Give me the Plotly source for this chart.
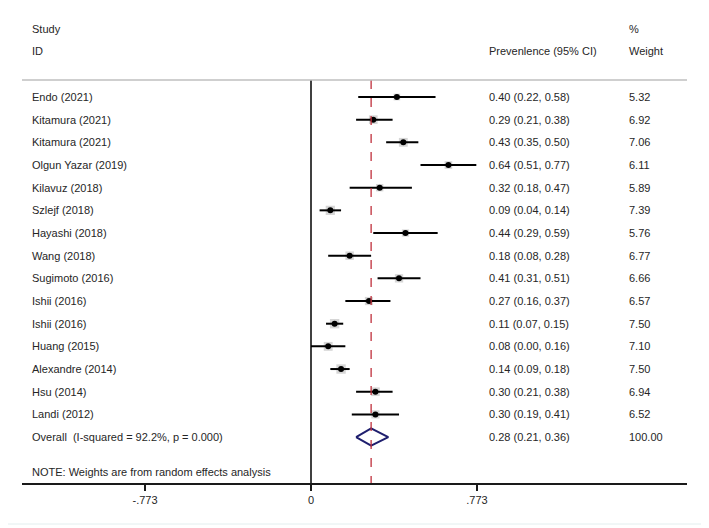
import plotly.graph_objects as go

studies = ["Endo (2021)", "Kitamura (2021)", "Kitamura (2021)", "Olgun Yazar (2019)",
           "Kilavuz (2018)", "Szlejf (2018)", "Hayashi (2018)", "Wang (2018)",
           "Sugimoto (2016)", "Ishii (2016)", "Ishii (2016)", "Huang (2015)",
           "Alexandre (2014)", "Hsu (2014)", "Landi (2012)"]
est = [0.40, 0.29, 0.43, 0.64, 0.32, 0.09, 0.44, 0.18, 0.41, 0.27, 0.11, 0.08, 0.14, 0.30, 0.30]
lo = [0.22, 0.21, 0.35, 0.51, 0.18, 0.04, 0.29, 0.08, 0.31, 0.16, 0.07, 0.00, 0.09, 0.21, 0.19]
hi = [0.58, 0.38, 0.50, 0.77, 0.47, 0.14, 0.59, 0.28, 0.51, 0.37, 0.15, 0.16, 0.18, 0.38, 0.41]
weights = [5.32, 6.92, 7.06, 6.11, 5.89, 7.39, 5.76, 6.77, 6.66, 6.57, 7.50, 7.10, 7.50, 6.94, 6.52]

overall_label = "Overall  (I-squared = 92.2%, p = 0.000)"
overall_est, overall_lo, overall_hi, overall_w = 0.28, 0.21, 0.36, 100.00
note = "NOTE: Weights are from random effects analysis"
tick_vals = [-0.773, 0, 0.773]
tick_text = ["-.773", "0", ".773"]

# page body has an 8px margin; the figure is sized so window pixels match the reference
OFF = 8
WIN_W, WIN_H = 709, 528
W, H = WIN_W - OFF, WIN_H - OFF
plot_left, plot_right, plot_top, plot_bottom = 22, 687, 80, 483  # window pixels
L, R = plot_left - OFF, WIN_W - plot_right
T, B = plot_top - OFF, WIN_H - plot_bottom
pw, ph = plot_right - plot_left, plot_bottom - plot_top

px0, ppu = 311.0, 214.7  # window pixel of x=0, pixels per unit
x_min = (plot_left - px0) / ppu
x_max = (plot_right - px0) / ppu
row0_px, row_h = 97.0, 22.67
def rowpx_to_y(p):
    return (p - row0_px) / row_h + 1
y_top = rowpx_to_y(plot_top)
y_bot = rowpx_to_y(plot_bottom)
def px_to_x(p):
    return (p - px0) / ppu

FONT = "Liberation Sans, Arial, sans-serif"
TXT = "#262626"

n = len(studies)
rows = list(range(1, n + 1))
fig = go.Figure()

# weight boxes
fig.add_trace(go.Scatter(x=est, y=rows, mode="markers",
                         marker=dict(symbol="square", size=[w * 1.25 for w in weights],
                                     color="#c4c4c4", line=dict(width=0)),
                         hoverinfo="skip", showlegend=False))
# CI lines
cx, cy = [], []
for a, b, r in zip(lo, hi, rows):
    cx += [a, b, None]
    cy += [r, r, None]
fig.add_trace(go.Scatter(x=cx, y=cy, mode="lines", line=dict(color="black", width=2),
                         hoverinfo="skip", showlegend=False))
# point estimates
fig.add_trace(go.Scatter(x=est, y=rows, mode="markers",
                         marker=dict(symbol="circle", size=6, color="black"),
                         hoverinfo="skip", showlegend=False))
# overall diamond
ro = n + 1
dh = 0.38
fig.add_trace(go.Scatter(x=[overall_lo, overall_est, overall_hi, overall_est, overall_lo],
                         y=[ro, ro - dh, ro, ro + dh, ro], mode="lines",
                         line=dict(color="#1f1f6e", width=2),
                         hoverinfo="skip", showlegend=False))

# vertical line at 0
fig.add_shape(type="line", x0=0, x1=0, y0=y_top, y1=y_bot, xref="x", yref="y",
              line=dict(color="black", width=1.5))
# dashed overall line
fig.add_shape(type="line", x0=overall_est, x1=overall_est, y0=y_top, y1=y_bot, xref="x", yref="y",
              line=dict(color="#c0303c", width=1.3, dash="dash"))
# top rule
fig.add_shape(type="line", x0=0, x1=1, y0=1, y1=1, xref="paper", yref="paper",
              line=dict(color="#bfbfbf", width=1.5))
# outer border (right and bottom sides visible)
bx0, bx1 = (2 - plot_left) / pw, (705 - plot_left) / pw
by0 = (plot_bottom - 524) / ph
by1 = (plot_bottom - 2) / ph
fig.add_shape(type="line", xref="paper", yref="paper", x0=bx1, x1=bx1, y0=by0, y1=by1,
              line=dict(color="#e3eeee", width=1))
fig.add_shape(type="line", xref="paper", yref="paper", x0=bx0, x1=bx1, y0=by0, y1=by0,
              line=dict(color="#e3eeee", width=1))

x_lab = px_to_x(30)
x_eff = px_to_x(487)
x_wt = px_to_x(627)

def txt(x, y, s):
    fig.add_annotation(x=x, y=y, xref="x", yref="y", text=s, showarrow=False,
                       xanchor="left", yanchor="middle",
                       font=dict(family=FONT, size=11, color=TXT))

for i, r in enumerate(rows):
    txt(x_lab, r, studies[i])
    txt(x_eff, r, f"{est[i]:.2f} ({lo[i]:.2f}, {hi[i]:.2f})")
    txt(x_wt, r, f"{weights[i]:.2f}")
txt(x_lab, ro, overall_label)
txt(x_eff, ro, f"{overall_est:.2f} ({overall_lo:.2f}, {overall_hi:.2f})")
txt(x_wt, ro, f"{overall_w:.2f}")
txt(x_lab, rowpx_to_y(472), note)

def htxt(x, p, s):
    fig.add_annotation(x=x, y=(plot_bottom - p) / ph, xref="x", yref="paper", text=s,
                       showarrow=False, xanchor="left", yanchor="middle",
                       font=dict(family=FONT, size=11, color=TXT))
htxt(x_lab, 29, "Study")
htxt(x_lab, 51, "ID")
htxt(x_eff, 51, "Prevenlence (95% CI)")
htxt(x_wt, 29, "%")
htxt(x_wt, 51, "Weight")

fig.update_layout(
    width=W, height=H, margin=dict(l=L, r=R, t=T, b=B),
    plot_bgcolor="white", paper_bgcolor="white", showlegend=False,
    xaxis=dict(range=[x_min, x_max], tickvals=tick_vals, ticktext=tick_text,
               showgrid=False, zeroline=False, showline=True, linecolor="#1a1a1a",
               linewidth=1.5, ticks="outside", ticklen=6, tickwidth=1.5, tickcolor="#1a1a1a",
               tickfont=dict(family=FONT, size=11, color=TXT), fixedrange=True),
    yaxis=dict(range=[y_bot, y_top], showgrid=False, zeroline=False, showline=False,
               showticklabels=False, ticks="", fixedrange=True),
)

fig.write_html("out.html")
